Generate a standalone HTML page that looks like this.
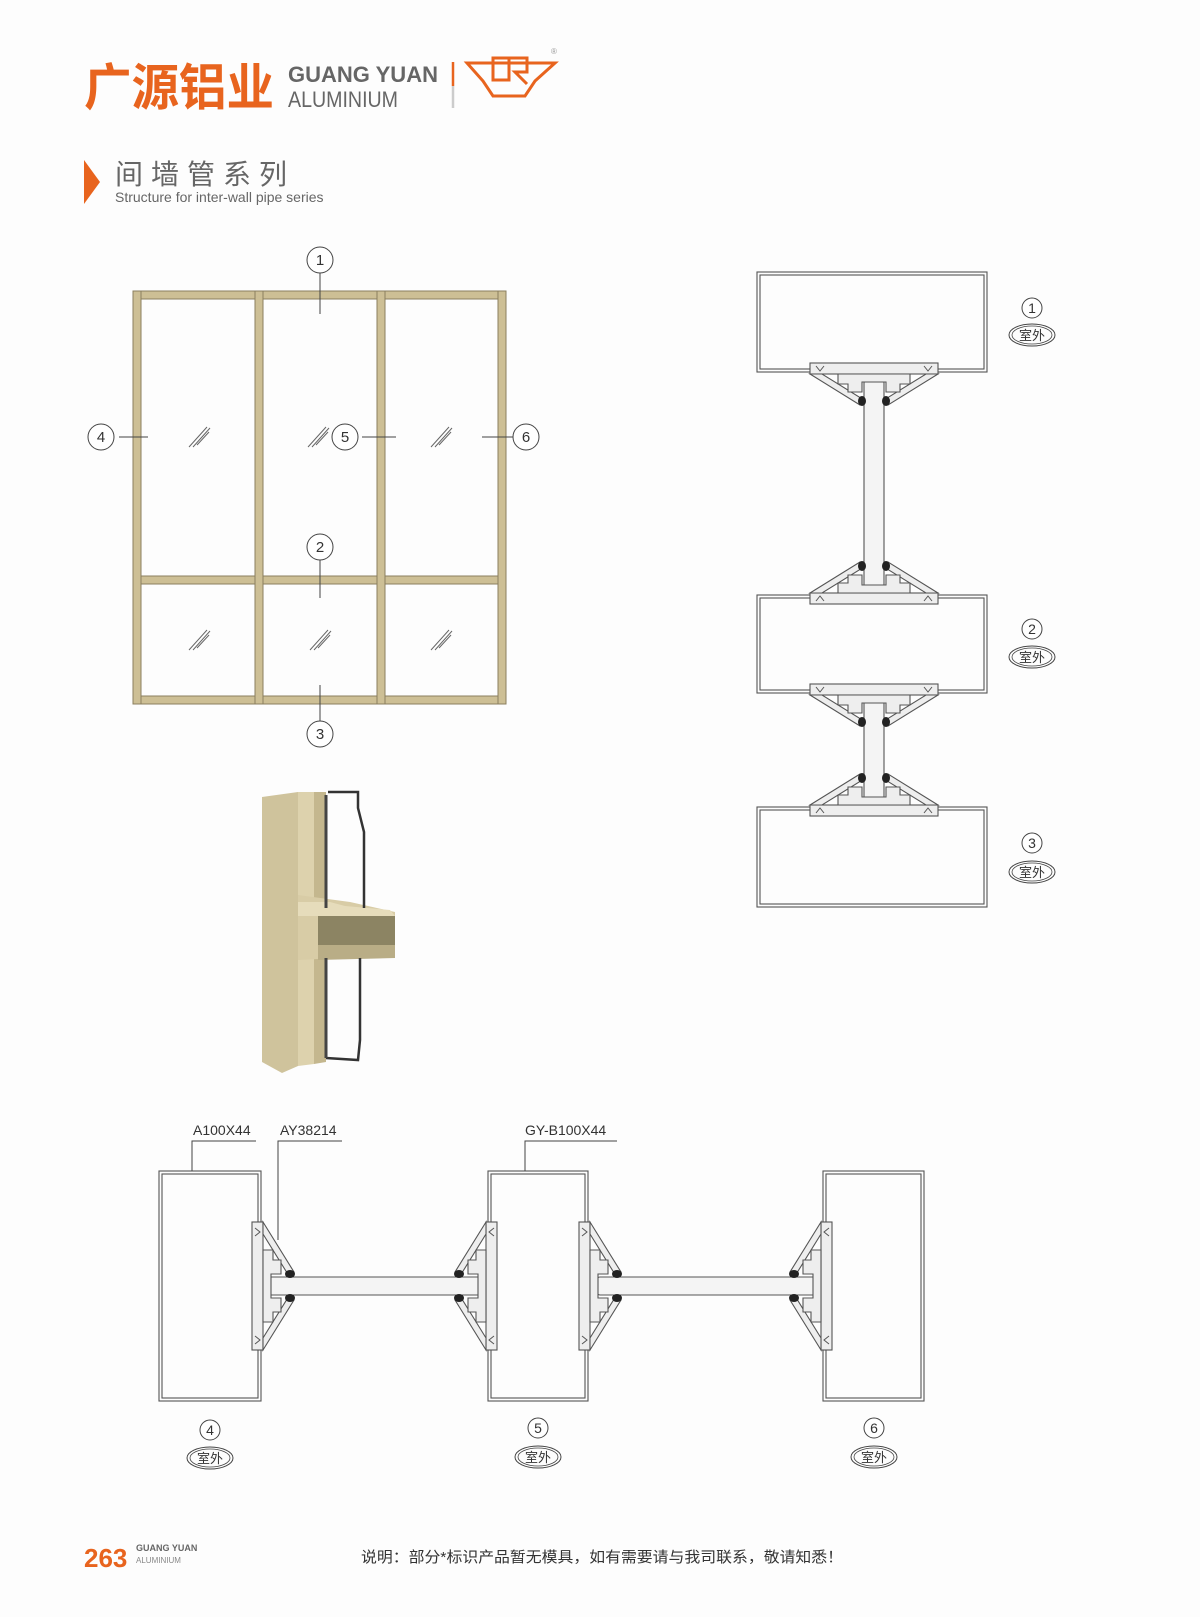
<!DOCTYPE html>
<html><head><meta charset="utf-8"><style>
html,body{margin:0;padding:0;background:#fdfdfd;}
svg{display:block}
text{font-family:"Liberation Sans","Noto Sans CJK SC",sans-serif;}
</style></head><body>
<svg width="1200" height="1617" viewBox="0 0 1200 1617" xmlns="http://www.w3.org/2000/svg">
<defs>
<g id="ad">
  <rect x="-9" y="-64" width="11" height="128" fill="#eee" stroke="#555" stroke-width="1.1"/>
  <path d="M2,-64 L33,-14 L28,-10 L2,-52 Z" fill="#eee" stroke="#555" stroke-width="1.1"/>
  <path d="M2,64 L33,14 L28,10 L2,52 Z" fill="#eee" stroke="#555" stroke-width="1.1"/>
  <path d="M2,-36 L12,-36 L12,-26 L20,-26 L20,-12 L10,-12 L10,12 L20,12 L20,26 L12,26 L12,36 L2,36 Z" fill="#eee" stroke="#555" stroke-width="1.1"/>
  <path d="M-6,-58 L-1,-54 L-6,-50" fill="none" stroke="#555"/>
  <path d="M-6,58 L-1,54 L-6,50" fill="none" stroke="#555"/>
  <ellipse cx="29" cy="-12" rx="5" ry="4" fill="#222"/>
  <ellipse cx="29" cy="12" rx="5" ry="4" fill="#222"/>
</g>
<g id="gl" stroke="#666" stroke-width="1" fill="none">
  <line x1="-10" y1="10" x2="8" y2="-10"/><line x1="-6" y1="10" x2="11" y2="-9"/><line x1="-2" y1="8" x2="10" y2="-5"/>
</g>
<g id="sw">
  <ellipse cx="0" cy="0" rx="23" ry="11" fill="none" stroke="#444" stroke-width="1"/>
  <ellipse cx="0" cy="0" rx="20" ry="9" fill="none" stroke="#444" stroke-width="0.8"/>
  <text x="0" y="5" font-size="13" text-anchor="middle" fill="#333">室外</text>
</g>
</defs>

<!-- Header -->
<text x="84" y="105" font-size="50" font-weight="bold" fill="#e8641e" textLength="190" lengthAdjust="spacingAndGlyphs">广源铝业</text>
<text x="288" y="82" font-size="22" font-weight="bold" fill="#666" textLength="150" lengthAdjust="spacingAndGlyphs">GUANG YUAN</text>
<text x="288" y="107" font-size="22" fill="#666" textLength="110" lengthAdjust="spacingAndGlyphs">ALUMINIUM</text>
<line x1="453" y1="62" x2="453" y2="86" stroke="#e8641e" stroke-width="2.5"/>
<line x1="453" y1="86" x2="453" y2="108" stroke="#ccc" stroke-width="2.5"/>
<g fill="none" stroke="#e8641e" stroke-width="3">
<path d="M467,63 L555,63 L535,81 L525,96 L493,96 L483,81 Z"/>
<rect x="493" y="58" width="16" height="22"/><path d="M509,58 L527,58 L527,72 L515,72 L527,84"/>
</g>
<text x="551" y="54" font-size="8" fill="#999">®</text>
<polygon points="84,160 100,182 84,204" fill="#e8641e"/>
<text x="115" y="184" font-size="28" fill="#666" letter-spacing="8">间墙管系列</text>
<text x="115" y="202" font-size="14" fill="#666">Structure for inter-wall pipe  series</text>

<!-- Front elevation frame -->
<g fill="#cdbf95" stroke="#8a7f5e" stroke-width="1">
<rect x="133" y="291" width="373" height="8"/>
<rect x="133" y="696" width="373" height="8"/>
<rect x="133" y="576" width="373" height="8"/>
<rect x="133" y="291" width="8" height="413"/>
<rect x="498" y="291" width="8" height="413"/>
<rect x="255" y="291" width="8" height="413"/>
<rect x="377" y="291" width="8" height="413"/>
</g>
<use href="#gl" x="199" y="437"/><use href="#gl" x="318" y="437"/><use href="#gl" x="441" y="437"/>
<use href="#gl" x="199" y="640"/><use href="#gl" x="320" y="640"/><use href="#gl" x="441" y="640"/>
<g stroke="#444" stroke-width="1" fill="#fff">
<line x1="320" y1="273" x2="320" y2="314"/>
<line x1="119" y1="437" x2="148" y2="437"/>
<line x1="362" y1="437" x2="396" y2="437"/>
<line x1="482" y1="437" x2="513" y2="437"/>
<line x1="320" y1="560" x2="320" y2="598"/>
<line x1="320" y1="685" x2="320" y2="721"/>
<circle cx="320" cy="260" r="13"/><circle cx="101" cy="437" r="13"/><circle cx="345" cy="437" r="13"/>
<circle cx="526" cy="437" r="13"/><circle cx="320" cy="547" r="13"/><circle cx="320" cy="734" r="13"/>
</g>
<g font-size="15" fill="#333" text-anchor="middle">
<text x="320" y="265">1</text><text x="101" y="442">4</text><text x="345" y="442">5</text>
<text x="526" y="442">6</text><text x="320" y="552">2</text><text x="320" y="739">3</text>
</g>

<!-- 3D profile -->
<g stroke="none">
<polygon points="262,797 298,792 298,1066 282,1073 262,1062" fill="#cfc39c"/>
<polygon points="298,792 314,792 314,1064 298,1066" fill="#ddd2ad"/>
<polygon points="314,792 326,792 326,1062 314,1064" fill="#c4b78e"/>
<polygon points="298,895 350,902 395,912 395,955 298,960" fill="#d8cca6"/>
<polygon points="298,902 330,902 345,906 390,910 395,916 298,916" fill="#e6dcbb"/>
<polygon points="318,945 395,945 395,958 318,960" fill="#b9ad86"/>
<rect x="318" y="916" width="77" height="29" fill="#8c8463"/>
</g>
<path d="M328,792 L358,792 L358,808 L364,832 L364,908 M360,958 L360,1040 L358,1060 L326,1058" fill="none" stroke="#333" stroke-width="2.5"/>
<line x1="326" y1="795" x2="326" y2="908" stroke="#444" stroke-width="3"/>
<line x1="326" y1="958" x2="326" y2="1058" stroke="#444" stroke-width="3"/>

<!-- Right vertical section -->
<g fill="none" stroke="#555" stroke-width="1.1">
<rect x="757" y="272" width="230" height="100"/><rect x="760" y="275" width="224" height="94"/>
<rect x="757" y="595" width="230" height="98"/><rect x="760" y="598" width="224" height="92"/>
<rect x="757" y="807" width="230" height="100"/><rect x="760" y="810" width="224" height="94"/>
</g>
<g fill="#f4f4f4" stroke="#555" stroke-width="1.1">
<rect x="864" y="380" width="20" height="208" rx="3"/>
<rect x="864" y="700" width="20" height="100" rx="3"/>
</g>
<use href="#ad" transform="translate(874,372) rotate(90)"/>
<use href="#ad" transform="translate(874,595) rotate(-90)"/>
<use href="#ad" transform="translate(874,693) rotate(90)"/>
<use href="#ad" transform="translate(874,807) rotate(-90)"/>
<g stroke="#444" fill="#fff"><circle cx="1032" cy="308" r="10"/><circle cx="1032" cy="629" r="10"/><circle cx="1032" cy="843" r="10"/></g>
<g font-size="14" fill="#333" text-anchor="middle"><text x="1032" y="313">1</text><text x="1032" y="634">2</text><text x="1032" y="848">3</text></g>
<use href="#sw" x="1032" y="335"/><use href="#sw" x="1032" y="657"/><use href="#sw" x="1032" y="872"/>

<!-- Bottom horizontal section -->
<g fill="none" stroke="#555" stroke-width="1.1">
<rect x="159" y="1171" width="102" height="230"/><rect x="162" y="1174" width="96" height="224"/>
<rect x="488" y="1171" width="100" height="230"/><rect x="491" y="1174" width="94" height="224"/>
<rect x="823" y="1171" width="101" height="230"/><rect x="826" y="1174" width="95" height="224"/>
</g>
<g fill="#f4f4f4" stroke="#555" stroke-width="1.1">
<rect x="267" y="1277" width="215" height="18" rx="3"/>
<rect x="597" y="1277" width="220" height="18" rx="3"/>
</g>
<use href="#ad" transform="translate(261,1286)"/>
<use href="#ad" transform="translate(488,1286) rotate(180)"/>
<use href="#ad" transform="translate(588,1286)"/>
<use href="#ad" transform="translate(823,1286) rotate(180)"/>
<g stroke="#444" fill="none" stroke-width="1">
<polyline points="256,1141 192,1141 192,1171"/>
<polyline points="342,1141 278,1141 278,1240"/>
<polyline points="617,1141 525,1141 525,1171"/>
</g>
<g font-size="14" fill="#333">
<text x="193" y="1135">A100X44</text><text x="280" y="1135">AY38214</text><text x="525" y="1135">GY-B100X44</text>
</g>
<g stroke="#444" fill="#fff"><circle cx="210" cy="1430" r="10"/><circle cx="538" cy="1428" r="10"/><circle cx="874" cy="1428" r="10"/></g>
<g font-size="14" fill="#333" text-anchor="middle"><text x="210" y="1435">4</text><text x="538" y="1433">5</text><text x="874" y="1433">6</text></g>
<use href="#sw" x="210" y="1458"/><use href="#sw" x="538" y="1457"/><use href="#sw" x="874" y="1457"/>

<!-- Footer -->
<text x="84" y="1567" font-size="26" font-weight="bold" fill="#e8641e">263</text>
<text x="136" y="1551" font-size="9" font-weight="bold" fill="#666">GUANG YUAN</text>
<text x="136" y="1563" font-size="8" fill="#888">ALUMINIUM</text>
<text x="361" y="1562" font-size="15" fill="#333" textLength="482" lengthAdjust="spacingAndGlyphs">说明：部分*标识产品暂无模具，如有需要请与我司联系，敬请知悉！</text>
</svg>
</body></html>
